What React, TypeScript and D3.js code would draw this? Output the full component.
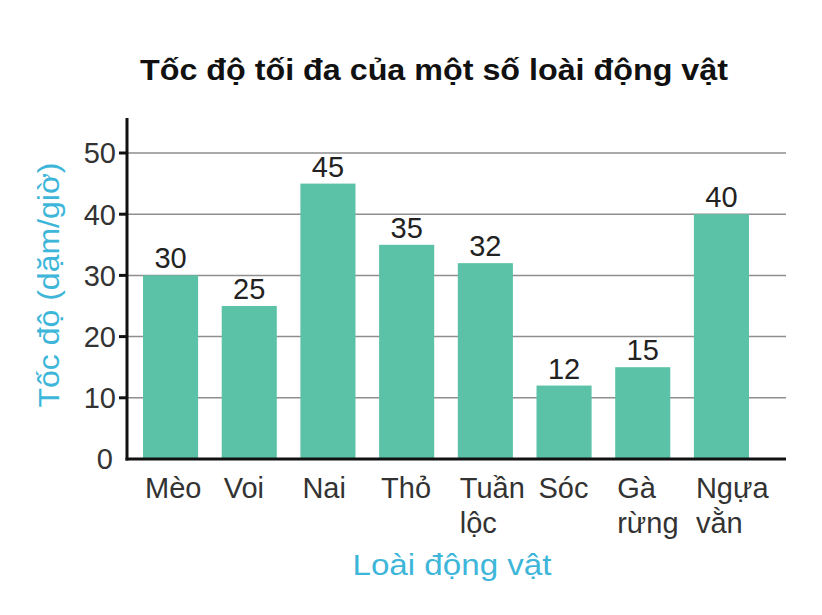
import React from "react";
import * as d3 from "d3";

const categories: string[][] = [
  ["Mèo"], ["Voi"], ["Nai"], ["Thỏ"], ["Tuần", "lộc"], ["Sóc"], ["Gà", "rừng"], ["Ngựa", "vằn"],
];
const values: number[] = [30, 25, 45, 35, 32, 12, 15, 40];
const yTicks: number[] = [0, 10, 20, 30, 40, 50];
const title = "Tốc độ tối đa của một số loài động vật";
const xTitle = "Loài động vật";
const yTitle = "Tốc độ (dặm/giờ)";

export default function App() {
  const W = 822, H = 615;
  const x0 = 127, x1 = 786;
  const keys = categories.map((c) => c.join(" "));
  const x = d3.scaleBand<string>().domain(keys).range([131.2, 760.8]).paddingInner(0.3).paddingOuter(0.15);
  const y = d3.scaleLinear().domain([0, 50]).range([459, 153]);
  const font = "'Liberation Sans', Arial, sans-serif";
  const blue = "#3db6d9";
  return (
    <svg width={W} height={H} style={{ position: "absolute", left: 0, top: 0, background: "#fff" }} fontFamily={font}>
      <rect x={0} y={0} width={W} height={H} fill="#fff" />
      <text x={434} y={80} textAnchor="middle" fontSize={29} fontWeight="bold" fill="#111" textLength={588} lengthAdjust="spacingAndGlyphs">{title}</text>
      {yTicks.filter((t) => t > 0).map((t) => (
        <line key={"g" + t} x1={x0} x2={x1} y1={y(t)} y2={y(t)} stroke="#8e8e8e" strokeWidth={1.5} />
      ))}
      {values.map((v, i) => (
        <rect key={"b" + i} x={x(keys[i])} y={y(v)} width={x.bandwidth()} height={y(0) - y(v)} fill="#5bc2a7" />
      ))}
      {values.map((v, i) => (
        <text key={"v" + i} x={(x(keys[i]) as number) + x.bandwidth() / 2} y={y(v) - 7} textAnchor="middle" fontSize={29} fill="#222">{v}</text>
      ))}
      <line x1={x0} x2={x0} y1={118} y2={460.5} stroke="#111" strokeWidth={3} />
      <line x1={x0 - 1.5} x2={x1} y1={y(0)} y2={y(0)} stroke="#111" strokeWidth={3} />
      {yTicks.map((t) => (
        <g key={"t" + t}>
          {t > 0 && <line x1={x0 - 8} x2={x0} y1={y(t)} y2={y(t)} stroke="#111" strokeWidth={3} />}
          <text x={t > 0 ? 116 : 113} y={y(t)} dy="0.36em" textAnchor="end" fontSize={29} fill="#333">{t}</text>
        </g>
      ))}
      {categories.map((c, i) => (
        <text key={"c" + i} x={(x(keys[i]) as number) + 2} y={498} textAnchor="start" fontSize={29} fill="#333">
          {c.map((line, j) => (
            <tspan key={j} x={(x(keys[i]) as number) + 2} dy={j === 0 ? 0 : 35}>{line}</tspan>
          ))}
        </text>
      ))}
      <text x={452} y={575} textAnchor="middle" fontSize={30} fill={blue} textLength={199} lengthAdjust="spacingAndGlyphs">{xTitle}</text>
      <text transform={`translate(59,${285}) rotate(-90)`} textAnchor="middle" fontSize={30} fill={blue} textLength={245} lengthAdjust="spacingAndGlyphs">{yTitle}</text>
    </svg>
  );
}
